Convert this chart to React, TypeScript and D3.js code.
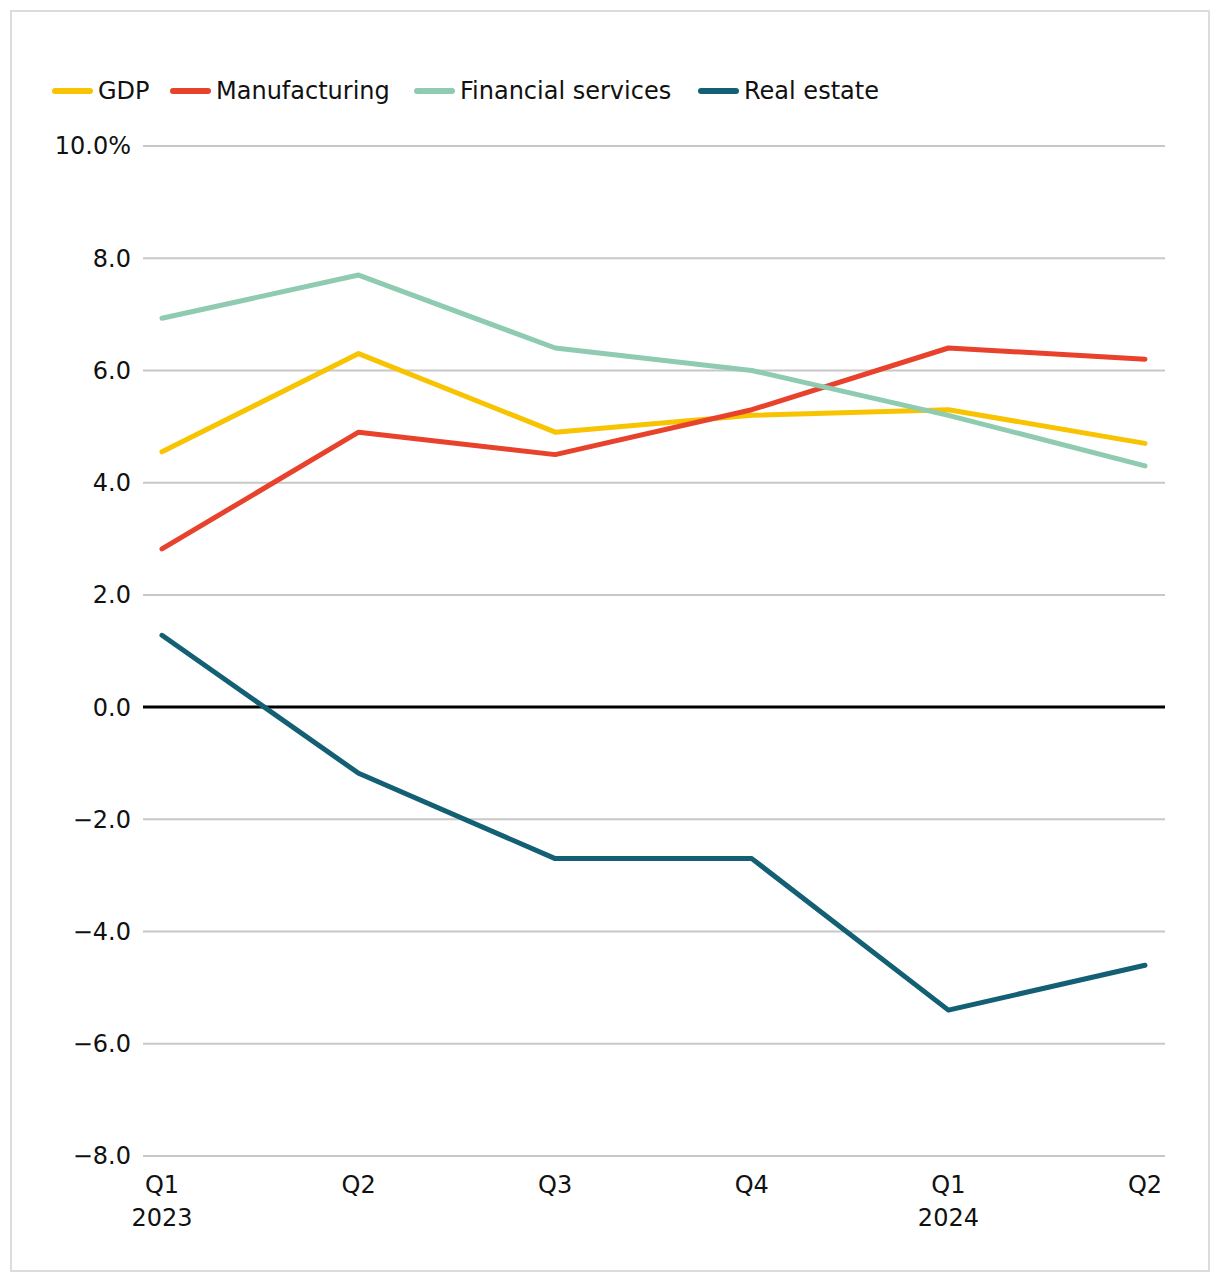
import React from "react";
import * as d3 from "d3";

const quarters = ["Q1", "Q2", "Q3", "Q4", "Q1", "Q2"];
const years = ["2023", "", "", "", "2024", ""];
const seriesNames = ["GDP", "Manufacturing", "Financial services", "Real estate"];
const seriesColors = ["#f8c300", "#e8412c", "#8ecbb0", "#135f74"];
const gdp = [4.55, 6.3, 4.9, 5.2, 5.3, 4.7];
const manufacturing = [2.82, 4.9, 4.5, 5.3, 6.4, 6.2];
const financial = [6.93, 7.7, 6.4, 6.0, 5.2, 4.3];
const realEstate = [1.28, -1.18, -2.7, -2.7, -5.4, -4.6];
const yTicks = [10, 8, 6, 4, 2, 0, -2, -4, -6, -8];
const legendX = [52, 170, 414, 698];

const W = 1220, H = 1282;
const FONT = "'DejaVu Sans', sans-serif";
const FS = 24;

export default function App() {
  const x = d3.scalePoint<number>().domain(d3.range(quarters.length)).range([162, 1145]);
  const y = d3.scaleLinear().domain([-8, 10]).range([1156, 146]);
  const data = [gdp, manufacturing, financial, realEstate];
  const line = d3.line<number>().x((_, i) => x(i)!).y((d) => y(d));
  return (
    <div style={{ position: "absolute", left: 0, top: 0 }}>
      <svg width={W} height={H} style={{ display: "block", fontFamily: FONT }}>
        <rect x={0} y={0} width={W} height={H} fill="#fff" />
        <rect x={11} y={11} width={1198} height={1260} fill="none" stroke="#dcdcdc" strokeWidth={2} />
        {seriesNames.map((n, i) => (
          <g key={n} transform={`translate(${legendX[i]},91)`}>
            <line x1={3} x2={38} y1={0} y2={0} stroke={seriesColors[i]} strokeWidth={6} strokeLinecap="round" />
            <text x={46} y={0} dy="0.35em" fontSize={FS} fill="#111">{n}</text>
          </g>
        ))}
        {yTicks.map((t) => (
          <g key={t}>
            <line x1={143} x2={1165} y1={y(t)} y2={y(t)} stroke={t === 0 ? "#000" : "#c8c8c8"} strokeWidth={t === 0 ? 3 : 2} />
            <text x={131} y={y(t)} dy="0.35em" textAnchor="end" fontSize={FS} fill="#111">
              {(t < 0 ? "\u2212" + Math.abs(t).toFixed(1) : t.toFixed(1)) + (t === 10 ? "%" : "")}
            </text>
          </g>
        ))}
        {quarters.map((q, i) => (
          <g key={i}>
            <text x={x(i)} y={1185} dy="0.35em" textAnchor="middle" fontSize={FS} fill="#111">{q}</text>
            {years[i] && (
              <text x={x(i)} y={1218} dy="0.35em" textAnchor="middle" fontSize={FS} fill="#111">{years[i]}</text>
            )}
          </g>
        ))}
        {data.map((s, i) => (
          <path key={i} d={line(s)!} fill="none" stroke={seriesColors[i]} strokeWidth={5} strokeLinecap="round" strokeLinejoin="round" />
        ))}
      </svg>
    </div>
  );
}
